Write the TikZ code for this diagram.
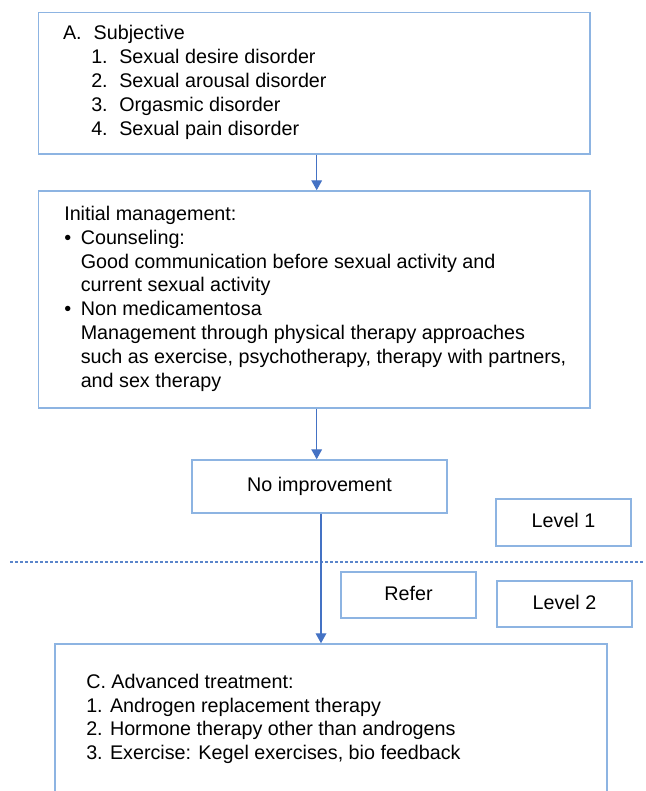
\documentclass[tikz,border=0pt]{standalone}
\usepackage{fontspec}
\setmainfont{Liberation Sans}
\usetikzlibrary{arrows.meta}
\definecolor{boxblue}{HTML}{8DB4E2}
\definecolor{arrblue}{HTML}{4472C4}
\definecolor{dotblue}{HTML}{5B86CB}
\def\pxu{0.75pt}
\begin{document}
\begin{tikzpicture}[x=0.75pt,y=-0.75pt,
  box/.style={draw=boxblue, line width=1.1pt, inner sep=0pt},
  lbl/.style={font=\fontsize{14.8}{18}\selectfont, text height=10.6pt, text depth=3pt},
  txt/.style={anchor=base west, inner sep=0pt, font=\fontsize{14.8}{18}\selectfont},
  arr/.style={draw=arrblue, line width=1pt, -{Triangle[length=7.5pt,width=8pt]}},
  levelline/.style={draw=dotblue, line width=1.1pt, dash pattern=on 2.5pt off 1.25pt}
]
\useasboundingbox (0,0) rectangle (645,791);
\clip (0,0) rectangle (645,791);

% boxes
\node[box, minimum width=551.5*\pxu, minimum height=141.5*\pxu] (A) at (314.25,83.25) {};
\node[box, minimum width=551.5*\pxu, minimum height=217*\pxu] (B) at (314.25,299.5) {};
\node[box, lbl, minimum width=255*\pxu, minimum height=53*\pxu] (NI) at (319.5,486.5) {No improvement};
\node[box, lbl, minimum width=135*\pxu, minimum height=47*\pxu] (L1) at (563.5,522.5) {Level 1};
\node[box, lbl, minimum width=135*\pxu, minimum height=46*\pxu] (RF) at (408.5,595) {Refer};
\node[box, lbl, minimum width=135*\pxu, minimum height=46*\pxu] (L2) at (564.5,604) {Level 2};
\node[box, minimum width=552*\pxu, minimum height=170*\pxu] (C) at (331,729) {};

% texts of box A
\node[txt] (a0) at (62.8,40) {\makebox[23pt][l]{A.}Subjective};
\node[txt] (a1) at (91,64) {\makebox[21pt][l]{1.}Sexual desire disorder};
\node[txt] (a2) at (91,88) {\makebox[21pt][l]{2.}Sexual arousal disorder};
\node[txt] (a3) at (91,112) {\makebox[21pt][l]{3.}Orgasmic disorder};
\node[txt] (a4) at (91,136) {\makebox[21pt][l]{4.}Sexual pain disorder};

% texts of box B
\node[txt] (b0) at (64,220.5) {Initial management:};
\node[txt] (b1) at (64,244.3) {\makebox[12.4pt][l]{•}Counseling:};
\node[txt] (b2) at (80.5,268.1) {Good communication before sexual activity and};
\node[txt] (b3) at (80.5,291.9) {current sexual activity};
\node[txt] (b4) at (64,315.7) {\makebox[12.4pt][l]{•}Non medicamentosa};
\node[txt] (b5) at (80.5,339.5) {Management through physical therapy approaches};
\node[txt] (b6) at (80.5,363.3) {such as exercise, psychotherapy, therapy with partners,};
\node[txt] (b7) at (80.5,387.1) {and sex therapy};

% texts of box C
\node[txt] (c0) at (86,688.3) {C. Advanced treatment:};
\node[txt] (c1) at (86,712) {1. Androgen replacement therapy};
\node[txt] (c2) at (86,735.6) {2. Hormone therapy other than androgens};
\node[txt] (c3) at (86,759.3) {3. Exercise: Kegel exercises, bio feedback};

% level separator
\coordinate (dl) at (10,562);
\coordinate (dr) at (645,562);
\draw[levelline] (dl) -- (dr);

% connectors
\coordinate (x1) at (316.7,0);
\coordinate (x2) at (316.7,0);
\coordinate (x3) at (321,0);
\draw[arr] (x1 |- A.south) -- (x1 |- B.north);
\draw[arr] (x2 |- B.south) -- (x2 |- NI.north);
\draw[arr] (x3 |- NI.south) -- (x3 |- C.north);
\end{tikzpicture}
\end{document}
